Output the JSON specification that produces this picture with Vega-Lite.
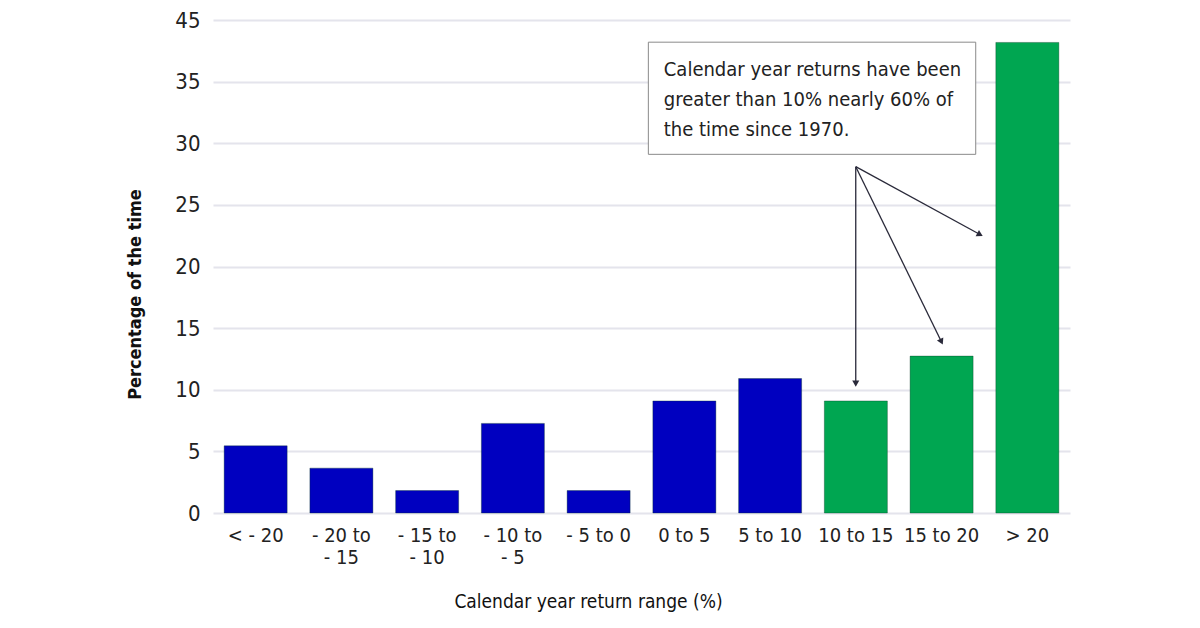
{
  "$schema": "https://vega.github.io/schema/vega-lite/v6.json",
  "autosize": {"type": "none"},
  "padding": {"left": 213, "top": 20, "right": 130, "bottom": 115},
  "width": 857,
  "height": 493,
  "background": "white",
  "config": {
    "view": {"stroke": null},
    "font": "DejaVu Sans Condensed, Roboto, sans-serif"
  },
  "datasets": {
    "bars": [
      {"range": "< - 20", "pct": 5.45, "group": "below"},
      {"range": "- 20 to - 15", "pct": 3.64, "group": "below"},
      {"range": "- 15 to - 10", "pct": 1.82, "group": "below"},
      {"range": "- 10 to - 5", "pct": 7.27, "group": "below"},
      {"range": "- 5 to 0", "pct": 1.82, "group": "below"},
      {"range": "0 to 5", "pct": 9.09, "group": "below"},
      {"range": "5 to 10", "pct": 10.91, "group": "below"},
      {"range": "10 to 15", "pct": 9.09, "group": "above"},
      {"range": "15 to 20", "pct": 12.73, "group": "above"},
      {"range": "> 20", "pct": 38.18, "group": "above"}
    ],
    "arrows": [
      {"x0": 7.5, "y0": 28.1, "x1": 7.5, "y1": 10.5, "target": "10 to 15"},
      {"x0": 7.5, "y0": 28.1, "x1": 8.5, "y1": 13.9, "target": "15 to 20"},
      {"x0": 7.5, "y0": 28.1, "x1": 8.95, "y1": 22.6, "target": "> 20"}
    ],
    "box": [
      {"x0": 5.08, "x1": 8.9, "y0": 29.1, "y1": 38.2, "tx": 5.26, "ty": 36.75,
       "note": "Calendar year returns have been|greater than 10% nearly 60% of|the time since 1970."}
    ]
  },
  "layer": [
    {
      "data": {"name": "bars"},
      "mark": {"type": "bar", "strokeWidth": 1, "strokeOpacity": 0.35, "stroke": "#003320"},
      "encoding": {
        "x": {
          "field": "range", "type": "nominal", "sort": null,
          "scale": {"paddingInner": 0.265, "paddingOuter": 0.13},
          "axis": {
            "title": "Calendar year return range (%)",
            "titleFontSize": 19,
            "titleFontWeight": "normal",
            "titleColor": "#111",
            "titleX": 375,
            "titleY": 88,
            "titleBaseline": "middle",
            "labelFontSize": 20,
            "labelColor": "#222",
            "labelAngle": 0,
            "labelPadding": 12,
            "labelLineHeight": 22,
            "labelExpr": "indexof(datum.label, ' to -') >= 0 ? split(replace(datum.label, ' to -', ' to|-'), '|') : datum.label",
            "domain": false,
            "ticks": false
          }
        },
        "y": {
          "field": "pct", "type": "quantitative",
          "scale": {"domain": [0, 40], "nice": false},
          "axis": {
            "values": [0, 5, 10, 15, 20, 25, 30, 35, 40],
            "labelExpr": "datum.value == 40 ? '45' : datum.label",
            "title": "Percentage of the time",
            "titleFontSize": 18,
            "titleFontWeight": "bold",
            "titleColor": "#111",
            "titleX": -78,
            "titleY": 274,
            "titleBaseline": "middle",
            "labelFontSize": 22,
            "labelColor": "#222",
            "labelPadding": 13,
            "domain": false,
            "ticks": false,
            "grid": true,
            "gridColor": "#e4e4ec",
            "gridWidth": 2
          }
        },
        "color": {
          "field": "group", "type": "nominal",
          "scale": {"domain": ["below", "above"], "range": ["#0000c0", "#00a651"]},
          "legend": null
        }
      }
    },
    {
      "data": {"name": "box"},
      "mark": {"type": "rect", "fill": "white", "stroke": "#8a8a8a", "strokeWidth": 1},
      "encoding": {
        "x": {"field": "x0", "type": "quantitative", "scale": {"domain": [0, 10], "nice": false}, "axis": null},
        "x2": {"field": "x1"},
        "y": {"field": "y0", "type": "quantitative"},
        "y2": {"field": "y1"}
      }
    },
    {
      "data": {"name": "box"},
      "transform": [{"calculate": "split(datum.note, '|')", "as": "lines"}],
      "mark": {"type": "text", "align": "left", "baseline": "top", "fontSize": 20, "lineHeight": 30, "color": "#222"},
      "encoding": {
        "x": {"field": "tx", "type": "quantitative", "scale": {"domain": [0, 10], "nice": false}, "axis": null},
        "y": {"field": "ty", "type": "quantitative"},
        "text": {"field": "lines"}
      }
    },
    {
      "data": {"name": "arrows"},
      "mark": {"type": "rule", "color": "#2a2a3a", "strokeWidth": 1.3},
      "encoding": {
        "x": {"field": "x0", "type": "quantitative", "scale": {"domain": [0, 10], "nice": false}, "axis": null},
        "x2": {"field": "x1"},
        "y": {"field": "y0", "type": "quantitative"},
        "y2": {"field": "y1"}
      }
    },
    {
      "data": {"name": "arrows"},
      "transform": [{"filter": "datum.target == '10 to 15'"}],
      "mark": {"type": "point", "shape": "triangle-down", "filled": true, "color": "#2a2a3a", "size": 50, "opacity": 1},
      "encoding": {
        "x": {"field": "x1", "type": "quantitative", "scale": {"domain": [0, 10], "nice": false}, "axis": null},
        "y": {"field": "y1", "type": "quantitative"}
      }
    },
    {
      "data": {"name": "arrows"},
      "transform": [{"filter": "datum.target == '15 to 20'"}],
      "mark": {"type": "point", "shape": "triangle-up", "angle": 154, "filled": true, "color": "#2a2a3a", "size": 50, "opacity": 1},
      "encoding": {
        "x": {"field": "x1", "type": "quantitative", "scale": {"domain": [0, 10], "nice": false}, "axis": null},
        "y": {"field": "y1", "type": "quantitative"}
      }
    },
    {
      "data": {"name": "arrows"},
      "transform": [{"filter": "datum.target == '> 20'"}],
      "mark": {"type": "point", "shape": "triangle-up", "angle": 118, "filled": true, "color": "#2a2a3a", "size": 50, "opacity": 1},
      "encoding": {
        "x": {"field": "x1", "type": "quantitative", "scale": {"domain": [0, 10], "nice": false}, "axis": null},
        "y": {"field": "y1", "type": "quantitative"}
      }
    }
  ],
  "resolve": {"scale": {"x": "independent"}}
}
